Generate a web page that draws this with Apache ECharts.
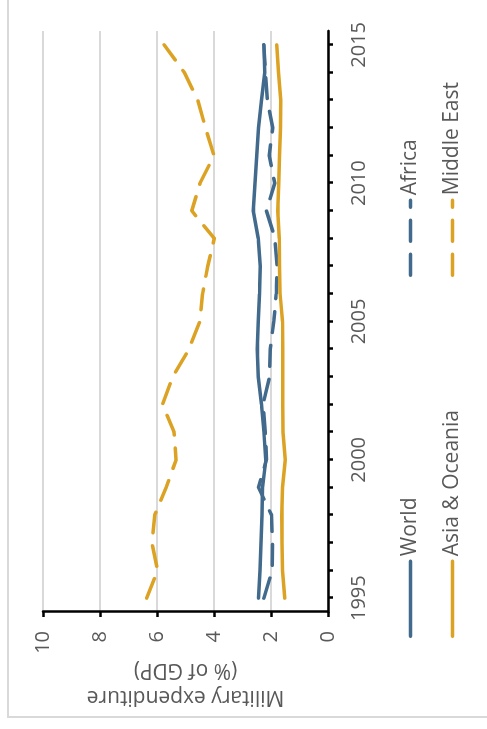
<!DOCTYPE html>
<html>
<head>
<meta charset="utf-8">
<script src="https://cdn.jsdelivr.net/npm/echarts@6/dist/echarts.min.js"></script>
<style>
  html, body { margin: 0; padding: 0; width: 487px; height: 729px; overflow: hidden; background: #ffffff; }
  #wrap { position: absolute; left: 0; top: 0; width: 729px; height: 487px;
          transform-origin: 0 0; transform: translateY(729px) rotate(-90deg); }
</style>
</head>
<body>
<div id="wrap"></div>
<script>
const years = ['1995','1996','1997','1998','1999','2000','2001','2002','2003','2004','2005',
               '2006','2007','2008','2009','2010','2011','2012','2013','2014','2015'];
const world      = [2.44,2.39,2.35,2.32,2.30,2.18,2.25,2.33,2.45,2.48,2.45,2.40,2.38,2.45,2.62,2.56,2.50,2.44,2.33,2.22,2.25];
const africa     = [2.25,1.96,1.95,1.98,2.44,2.16,2.20,2.28,2.05,2.03,1.90,1.82,1.79,1.86,2.16,1.87,2.06,1.94,2.13,2.20,2.25];
const asiaOceania= [1.52,1.60,1.61,1.62,1.60,1.50,1.58,1.59,1.59,1.59,1.60,1.68,1.70,1.71,1.76,1.73,1.70,1.67,1.66,1.74,1.80];
const middleEast = [6.36,5.98,6.18,6.08,5.68,5.33,5.40,5.81,5.45,4.88,4.50,4.40,4.22,3.99,4.78,4.49,4.00,4.30,4.57,5.04,5.75];
const valueAxisMin = 0, valueAxisMax = 10, valueAxisStep = 2;

const BLUE = '#426A8C', GOLD = '#DCA223', TXT = '#595959';
const FONT = 'Open Sans';
const dash = [21, 13];
const LW = 3.5;

const chart = echarts.init(document.getElementById('wrap'), null, { width: 729, height: 487, renderer: 'canvas' });

function lineSeries(name, data, color, dashed) {
  return {
    name: name, type: 'line', data: data, symbol: 'none', smooth: false,
    lineStyle: { color: color, width: LW, type: dashed ? dash : 'solid', cap: 'round', join: 'round' },
    itemStyle: { color: color },
    emphasis: { disabled: true }
  };
}

const legendText = { color: TXT, fontFamily: FONT, fontSize: 21, lineHeight: 20 };
function legendBlock(left, names) {
  return { orient: 'vertical', left: left, top: 400, itemWidth: 75, itemHeight: 20, itemGap: 21,
           data: names, textStyle: legendText, selectedMode: false, padding: 0,
           itemStyle: { opacity: 0 }, lineStyle: { width: LW } };
}

chart.setOption({
  animation: false,
  backgroundColor: '#ffffff',
  textStyle: { fontFamily: FONT },
  graphic: [{
    type: 'rect', silent: true, z: -1,
    shape: { x: 12, y: 8, width: 760, height: 520 },
    style: { fill: 'none', stroke: '#d9d9d9', lineWidth: 2 }
  }],
  grid: { left: 117, right: 31, top: 43, bottom: 159, containLabel: false },
  legend: [
    legendBlock(91, ['World', 'Asia & Oceania']),
    legendBlock(452, ['Africa', 'Middle East'])
  ],
  xAxis: {
    type: 'category', data: years, boundaryGap: true,
    axisLine: { show: true, lineStyle: { color: '#000000', width: 2.5 } },
    axisTick: { show: true, alignWithLabel: true, interval: 0, length: 5, lineStyle: { color: '#000000', width: 2.5 } },
    axisLabel: { interval: 4, margin: 21, color: TXT, fontFamily: FONT, fontSize: 20 },
    splitLine: { show: false }
  },
  yAxis: {
    type: 'value', min: valueAxisMin, max: valueAxisMax, interval: valueAxisStep,
    name: 'Military expenditure\n(% of GDP)', nameLocation: 'middle', nameRotate: 90, nameGap: 44,
    nameMoveOverlap: false,
    nameTextStyle: { color: TXT, fontFamily: FONT, fontSize: 21, lineHeight: 27, align: 'center' },
    axisLine: { show: true, lineStyle: { color: '#000000', width: 2.5 } },
    axisTick: { show: true, length: 5, lineStyle: { color: '#000000', width: 2.5 } },
    axisLabel: { margin: 19, color: TXT, fontFamily: FONT, fontSize: 20 },
    splitLine: { show: true, lineStyle: { color: '#d9d9d9', width: 2 } }
  },
  series: [
    lineSeries('World', world, BLUE, false),
    lineSeries('Africa', africa, BLUE, true),
    lineSeries('Asia & Oceania', asiaOceania, GOLD, false),
    lineSeries('Middle East', middleEast, GOLD, true)
  ]
});
</script>
</body>
</html>
